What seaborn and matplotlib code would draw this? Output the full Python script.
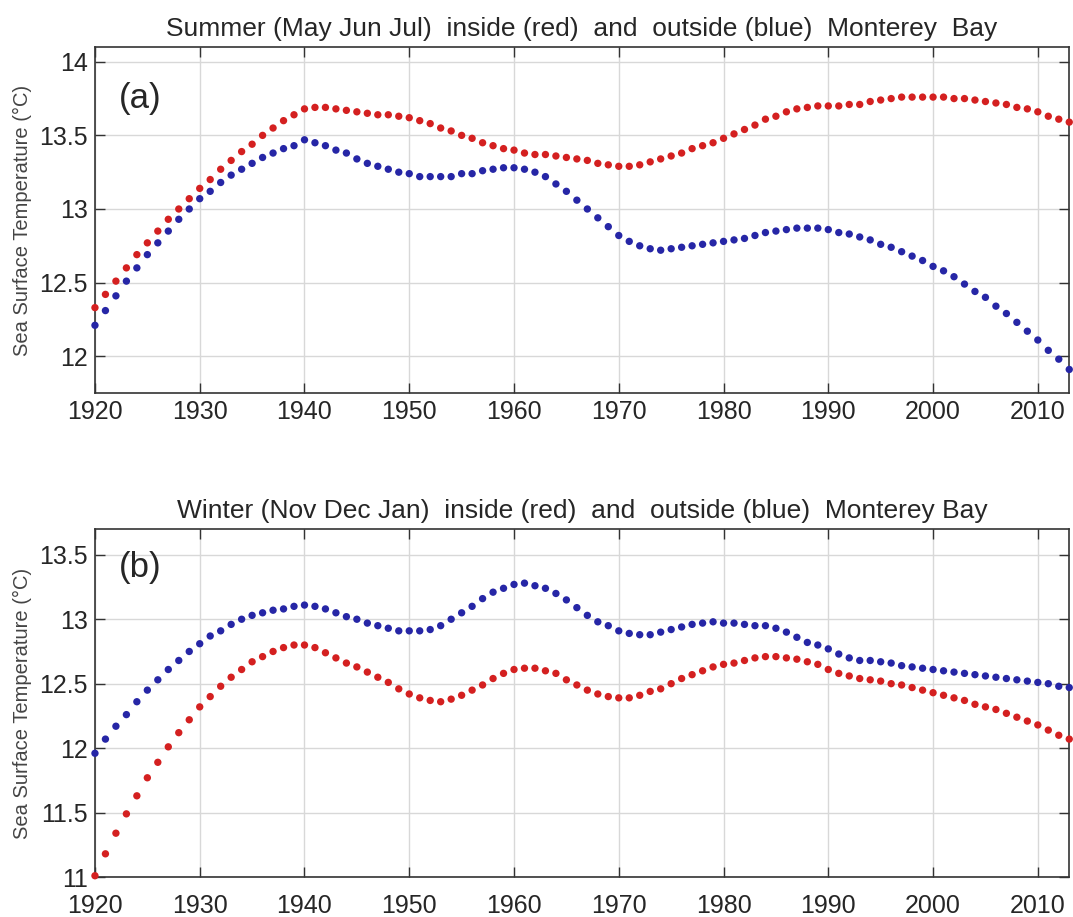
import numpy as np
import pandas as pd
import seaborn as sns
import matplotlib.pyplot as plt

# years 1920..2013, one value per year
years = list(range(1920, 2014))

summer_inside = [
    12.33, 12.42, 12.51, 12.60, 12.69, 12.77, 12.85, 12.93, 13.00, 13.07,
    13.14, 13.20, 13.27, 13.33, 13.39, 13.44, 13.50, 13.55, 13.60, 13.64,
    13.68, 13.69, 13.69, 13.68, 13.67, 13.66, 13.65, 13.64, 13.64, 13.63,
    13.62, 13.60, 13.58, 13.55, 13.53, 13.50, 13.48, 13.45, 13.43, 13.41,
    13.40, 13.38, 13.37, 13.37, 13.36, 13.35, 13.34, 13.33, 13.31, 13.30,
    13.29, 13.29, 13.30, 13.32, 13.34, 13.36, 13.38, 13.41, 13.43, 13.45,
    13.48, 13.51, 13.54, 13.57, 13.61, 13.63, 13.66, 13.68, 13.69, 13.70,
    13.70, 13.70, 13.71, 13.71, 13.73, 13.74, 13.75, 13.76, 13.76, 13.76,
    13.76, 13.76, 13.75, 13.75, 13.74, 13.73, 13.72, 13.71, 13.69, 13.68,
    13.66, 13.63, 13.61, 13.59,
]
summer_outside = [
    12.21, 12.31, 12.41, 12.51, 12.60, 12.69, 12.77, 12.85, 12.93, 13.00,
    13.07, 13.12, 13.18, 13.23, 13.27, 13.31, 13.35, 13.38, 13.41, 13.43,
    13.47, 13.45, 13.43, 13.40, 13.38, 13.34, 13.31, 13.29, 13.27, 13.25,
    13.24, 13.22, 13.22, 13.22, 13.22, 13.24, 13.24, 13.26, 13.27, 13.28,
    13.28, 13.27, 13.25, 13.22, 13.17, 13.12, 13.06, 13.00, 12.94, 12.88,
    12.82, 12.78, 12.75, 12.73, 12.72, 12.73, 12.74, 12.75, 12.76, 12.77,
    12.78, 12.79, 12.80, 12.82, 12.84, 12.85, 12.86, 12.87, 12.87, 12.87,
    12.86, 12.84, 12.83, 12.81, 12.79, 12.76, 12.74, 12.71, 12.68, 12.65,
    12.61, 12.58, 12.54, 12.49, 12.44, 12.40, 12.34, 12.29, 12.23, 12.17,
    12.11, 12.04, 11.98, 11.91,
]
winter_inside = [
    11.01, 11.18, 11.34, 11.49, 11.63, 11.77, 11.89, 12.01, 12.12, 12.22,
    12.32, 12.40, 12.48, 12.55, 12.61, 12.67, 12.71, 12.75, 12.78, 12.80,
    12.80, 12.78, 12.74, 12.70, 12.66, 12.63, 12.59, 12.55, 12.51, 12.46,
    12.42, 12.39, 12.37, 12.36, 12.38, 12.41, 12.45, 12.49, 12.54, 12.58,
    12.61, 12.62, 12.62, 12.60, 12.58, 12.53, 12.49, 12.45, 12.42, 12.40,
    12.39, 12.39, 12.41, 12.44, 12.46, 12.50, 12.54, 12.57, 12.60, 12.63,
    12.65, 12.66, 12.68, 12.70, 12.71, 12.71, 12.70, 12.69, 12.67, 12.65,
    12.61, 12.58, 12.56, 12.54, 12.53, 12.52, 12.50, 12.49, 12.47, 12.45,
    12.43, 12.41, 12.39, 12.37, 12.34, 12.32, 12.30, 12.27, 12.24, 12.21,
    12.18, 12.14, 12.10, 12.07,
]
winter_outside = [
    11.96, 12.07, 12.17, 12.26, 12.36, 12.45, 12.53, 12.61, 12.68, 12.75,
    12.81, 12.87, 12.91, 12.96, 13.00, 13.03, 13.05, 13.07, 13.08, 13.10,
    13.11, 13.10, 13.08, 13.05, 13.02, 13.00, 12.97, 12.95, 12.93, 12.91,
    12.91, 12.91, 12.92, 12.95, 13.00, 13.05, 13.10, 13.16, 13.21, 13.24,
    13.27, 13.28, 13.26, 13.24, 13.20, 13.15, 13.09, 13.03, 12.98, 12.95,
    12.91, 12.89, 12.88, 12.88, 12.90, 12.92, 12.94, 12.96, 12.97, 12.98,
    12.97, 12.97, 12.96, 12.95, 12.95, 12.93, 12.90, 12.86, 12.82, 12.80,
    12.77, 12.73, 12.70, 12.68, 12.68, 12.67, 12.66, 12.64, 12.63, 12.62,
    12.61, 12.60, 12.59, 12.58, 12.57, 12.56, 12.55, 12.54, 12.53, 12.52,
    12.51, 12.50, 12.48, 12.47,
]

xticks = [1920, 1930, 1940, 1950, 1960, 1970, 1980, 1990, 2000, 2010]

sns.set_style("ticks")
plt.rcParams['font.family'] = ['Liberation Sans', 'DejaVu Sans']

red = '#d42020'
blue = '#2626a6'

fig = plt.figure(figsize=(10.73, 9.17), dpi=100)
ax1 = fig.add_axes([0.0885, 0.5714, 0.908, 0.3773])
ax2 = fig.add_axes([0.0885, 0.0436, 0.908, 0.3795])

panels = [
    (ax1, summer_inside, summer_outside,
     'Summer (May Jun Jul)  inside (red)  and  outside (blue)  Monterey  Bay',
     '(a)', (11.75, 14.1), [12, 12.5, 13, 13.5, 14], 13.75, 5),
    (ax2, winter_inside, winter_outside,
     'Winter (Nov Dec Jan)  inside (red)  and  outside (blue)  Monterey Bay',
     '(b)', (11.0, 13.7), [11, 11.5, 12, 12.5, 13, 13.5], 13.4, 12),
]

for ax, inside, outside, title, tag, ylim, yticks, tag_y, xpad in panels:
    df = pd.DataFrame({'year': years, 'inside': inside, 'outside': outside})
    sns.scatterplot(data=df, x='year', y='outside', ax=ax, color=blue,
                    s=28, edgecolor='none', clip_on=False, zorder=3)
    sns.scatterplot(data=df, x='year', y='inside', ax=ax, color=red,
                    s=28, edgecolor='none', clip_on=False, zorder=3)
    ax.set_xlim(1920, 2013)
    ax.set_ylim(*ylim)
    ax.set_xticks(xticks)
    ax.set_yticks(yticks)
    ax.set_yticklabels([f'{v:g}' for v in yticks])
    ax.grid(True, color='#d8d8d8', linewidth=1.0)
    ax.set_axisbelow(True)
    ax.tick_params(direction='in', top=True, right=True, length=7,
                   width=1.0, labelsize=18, color='#333333')
    ax.tick_params(axis='x', pad=xpad)
    ax.tick_params(axis='y', pad=5)
    for sp in ax.spines.values():
        sp.set_visible(True)
        sp.set_color('#333333')
        sp.set_linewidth(1.2)
    ax.set_xlabel('')
    ax.set_ylabel('Sea Surface Temperature (°C)', fontsize=14.5, color='#444444', labelpad=5)
    ax.set_title(title, fontsize=19, pad=8)
    ax.text(1922.3, tag_y, tag, fontsize=25, va='center', ha='left')

fig.savefig('out.png', dpi=100)
